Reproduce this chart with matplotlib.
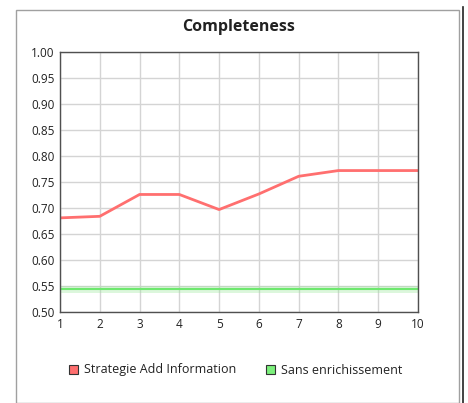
import matplotlib
matplotlib.use("Agg")
import matplotlib.pyplot as plt
from matplotlib.patches import Rectangle
from matplotlib.lines import Line2D

plt.rcParams["font.family"] = ["Open Sans", "DejaVu Sans"]

iterations = [1, 2, 3, 4, 5, 6, 7, 8, 9, 10]
strategie_add = [0.681, 0.684, 0.726, 0.726, 0.697, 0.727, 0.761, 0.772, 0.772, 0.772]
sans_enrich = [0.545] * 10
y_ticks = [0.50, 0.55, 0.60, 0.65, 0.70, 0.75, 0.80, 0.85, 0.90, 0.95, 1.00]

W, H = 468, 403
fig = plt.figure(figsize=(W / 100, H / 100), dpi=100)

# outer panel frame and side bar
fig.patches.append(Rectangle((16 / W, 0), (459 - 16) / W, (H - 10) / H,
                             transform=fig.transFigure, fill=False,
                             edgecolor="#a0a0a0", linewidth=1))
fig.add_artist(Line2D([463 / W, 463 / W], [0, 1 - 7 / H],
                      transform=fig.transFigure, color="#222222", linewidth=1.2))

ax = fig.add_axes([60 / W, 1 - 312 / H, (418 - 60) / W, (312 - 52) / H])
ax.plot(iterations, sans_enrich, color="#9be89b", linewidth=5, alpha=0.35)
ax.plot(iterations, sans_enrich, color="#6ee86e", linewidth=1.5)
ax.plot(iterations, strategie_add, color="#ff6f6f", linewidth=2)

ax.set_xlim(1, 10)
ax.set_ylim(0.5, 1.0)
ax.set_xticks(iterations)
ax.set_yticks(y_ticks)
ax.set_yticklabels(["%.2f" % v for v in y_ticks])
ax.grid(True, color="#d4d4d4", linewidth=1)
ax.set_axisbelow(True)
ax.tick_params(length=0, labelsize=8.5, pad=4, colors="#222222")
for s in ax.spines.values():
    s.set_color("#505050")
    s.set_linewidth(1)

fig.text(239 / W, 1 - 27 / H, "Completeness", ha="center", va="center",
         fontsize=11.5, fontweight="bold", color="#222222")

# legend
for x0, col, label in [(69, "#ff6f6f", "Strategie Add Information"),
                       (266, "#7cf07c", "Sans enrichissement")]:
    fig.patches.append(Rectangle((x0 / W, 1 - 374 / H), 9 / W, 9 / H,
                                 transform=fig.transFigure, facecolor=col,
                                 edgecolor="#333333", linewidth=0.8))
    fig.text((x0 + 15) / W, 1 - 370 / H, label, ha="left", va="center",
             fontsize=9, color="#222222")

fig.savefig("out.png", dpi=100)
